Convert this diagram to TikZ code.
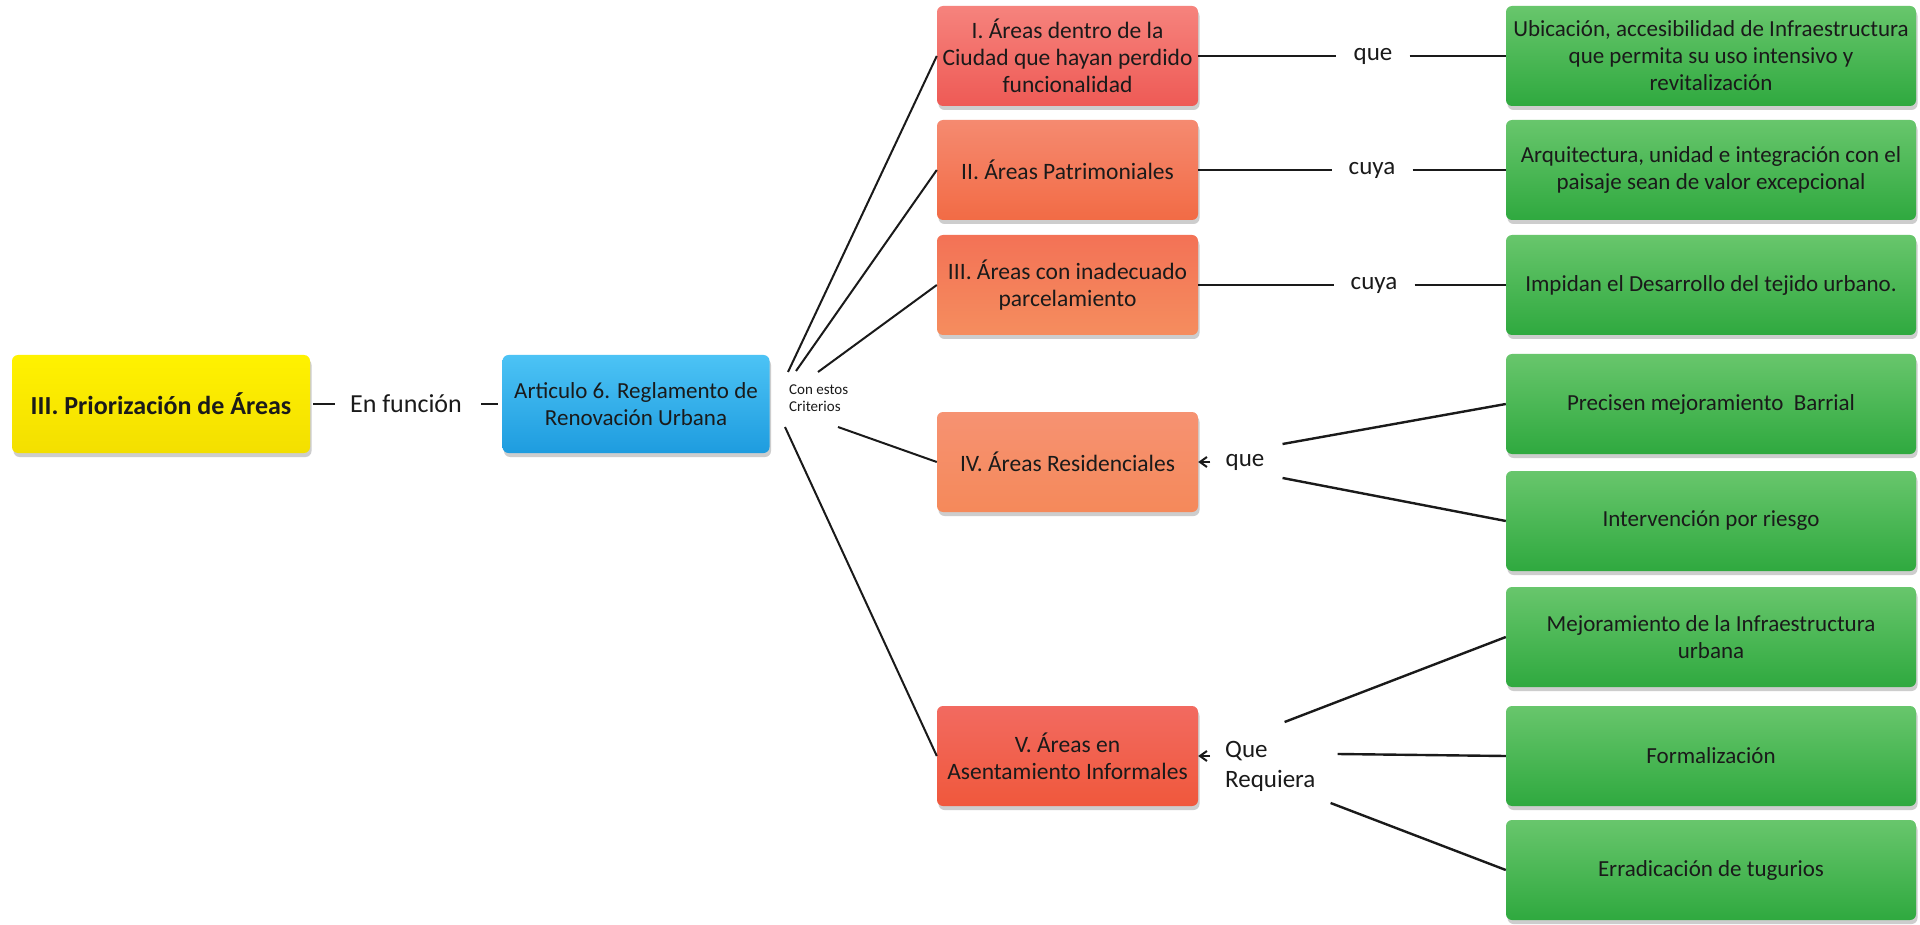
\documentclass[tikz,border=0pt]{standalone}
\usepackage{fontspec}
\setmainfont{Carlito}
\usetikzlibrary{arrows.meta,shadows,calc}
\newcommand\myfs[2]{\fontsize{#1}{#2}\selectfont}
\definecolor{yeltop}{HTML}{FFF200}
\definecolor{yelbot}{HTML}{F3DF00}
\definecolor{bltop}{HTML}{4CC3F5}
\definecolor{blbot}{HTML}{1E9CDF}
\definecolor{raT}{HTML}{F6837D}
\definecolor{raB}{HTML}{EE5A55}
\definecolor{rbT}{HTML}{F58A70}
\definecolor{rbB}{HTML}{F26B45}
\definecolor{rcT}{HTML}{F37256}
\definecolor{rcB}{HTML}{F58D5E}
\definecolor{rdT}{HTML}{F69272}
\definecolor{rdB}{HTML}{F5895A}
\definecolor{reT}{HTML}{F26A60}
\definecolor{reB}{HTML}{F0583C}
\definecolor{grtop}{HTML}{68C66C}
\definecolor{grbot}{HTML}{2FA93F}
\definecolor{ink}{HTML}{1A1A1A}
\begin{document}
\begin{tikzpicture}[x=1pt,y=-1pt,
  box/.style={rectangle, rounded corners=6pt, minimum height=100pt,
    inner xsep=4pt, inner ysep=2pt, align=center, text=ink,
    drop shadow={shadow xshift=1.5pt, shadow yshift=-4pt, opacity=0.28, fill=black!70}},
  redbox/.style={box, minimum width=261pt, font=\myfs{23.5}{27}},
  greenbox/.style={box, minimum width=410pt, top color=grtop, bottom color=grbot, font=\myfs{23}{27}},
  conn/.style={line width=2.4pt, ink},
  lbl/.style={inner ysep=0pt, inner xsep=17pt, text=ink, font=\myfs{25}{30}},
  tipstyle/.style={-{Straight Barb[length=7pt,width=10pt]}},
]
\useasboundingbox (0,0) rectangle (1920,925);
\fill[white] (0,0) rectangle (1920,925);

% left part
\node[box, minimum width=298pt, minimum height=98pt, top color=yeltop, bottom color=yelbot,
  font=\bfseries\myfs{26}{30}] (prio) at (161,404) {III. Priorización de Áreas};
\node[inner sep=0pt, text=ink, font=\myfs{26}{30}] (enf) at (406,404) {En función};
\node[box, minimum width=267pt, minimum height=98pt, top color=bltop, bottom color=blbot,
  font=\myfs{23}{27}] (art) at (636,404) {Articulo 6. Reglamento de\\Renovación Urbana};
\node[anchor=west, inner sep=0pt, align=left, text=ink, font=\myfs{15}{17}] (crit) at (789,398) {Con estos\\Criterios};

% red boxes
\node[redbox, top color=raT, bottom color=raB] (ra) at (1067.5,56) {I. Áreas dentro de la\\Ciudad que hayan perdido\\funcionalidad};
\node[redbox, top color=rbT, bottom color=rbB] (rb) at (1067.5,170) {II. Áreas Patrimoniales};
\node[redbox, top color=rcT, bottom color=rcB] (rc) at (1067.5,285) {III. Áreas con inadecuado\\parcelamiento};
\node[redbox, top color=rdT, bottom color=rdB] (rd) at (1067.5,462) {IV. Áreas Residenciales};
\node[redbox, top color=reT, bottom color=reB] (re) at (1067.5,756) {V. Áreas en\\Asentamiento Informales};

% green boxes
\node[greenbox] (ga) at (1711,56) {Ubicación, accesibilidad de Infraestructura\\que permita su uso intensivo y\\revitalización};
\node[greenbox] (gb) at (1711,170) {Arquitectura, unidad e integración con el\\paisaje sean de valor excepcional};
\node[greenbox] (gc) at (1711,285) {Impidan el Desarrollo del tejido urbano.};
\node[greenbox] (gd) at (1711,404) {Precisen mejoramiento\ \ Barrial};
\node[greenbox] (ge) at (1711,521) {Intervención por riesgo};
\node[greenbox] (gf) at (1711,637) {Mejoramiento de la Infraestructura\\urbana};
\node[greenbox] (gg) at (1711,756) {Formalización};
\node[greenbox] (gh) at (1711,870) {Erradicación de tugurios};

% labels
\node[lbl] (la) at (1373,56) {que};
\node[lbl] (lb) at (1372,170) {cuya};
\node[lbl] (lc) at (1374,285) {cuya};
\node[inner sep=0pt, text=ink, font=\myfs{25}{30}] (ld) at (1245,462) {que};
\node[anchor=west, inner sep=0pt, align=left, text=ink, font=\myfs{25}{30}] (le) at (1225,766) {Que\\Requiera};

% connectors left
\draw[conn, shorten <=3pt, shorten >=15pt] (prio.east) -- (enf.west);
\draw[conn, shorten <=19pt, shorten >=4pt] (enf.east) -- (art.west);

% criteria fan
\coordinate (k1) at (788,372);
\coordinate (k2) at (796,371);
\coordinate (k3) at (818,372);
\coordinate (k4) at (838,427);
\coordinate (k5) at (785,427);
\draw[conn, line width=2pt] (k1) -- (ra.west);
\draw[conn, line width=2pt] (k2) -- (rb.west);
\draw[conn, line width=2pt] (k3) -- (rc.west);
\draw[conn, line width=2pt] (k4) -- (rd.west);
\draw[conn, line width=2pt] (k5) -- (re.west);

% rows
\draw[conn] (ra.east) -- (la.west);
\draw[conn] (la.east) -- (ga.west);
\draw[conn] (rb.east) -- (lb.west);
\draw[conn] (lb.east) -- (gb.west);
\draw[conn] (rc.east) -- (lc.west);
\draw[conn] (lc.east) -- (gc.west);

% IV
\draw[conn, line width=2pt, tipstyle, shorten <=15pt] (ld.west) -- (rd.east);
\draw[conn] ([xshift=18pt,yshift=18pt]ld.east) -- (gd.west);
\draw[conn] ([xshift=18pt,yshift=-16pt]ld.east) -- (ge.west);

% V
\draw[conn, line width=2pt, tipstyle, shorten <=15pt] ([yshift=10pt]le.west) -- (re.east);
\draw[conn] ([xshift=-31pt,yshift=44pt]le.east) -- (gf.west);
\draw[conn] ([xshift=22pt,yshift=12pt]le.east) -- (gg.west);
\draw[conn] ([xshift=15pt,yshift=-37pt]le.east) -- (gh.west);
\end{tikzpicture}
\end{document}
